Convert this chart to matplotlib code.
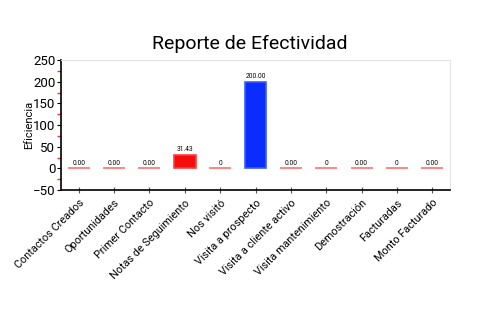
import matplotlib
matplotlib.use("Agg")
import matplotlib.pyplot as plt
from matplotlib.ticker import MultipleLocator

plt.rcParams["font.family"] = ["Roboto", "DejaVu Sans"]

categorias = [
    "Contactos Creados", "Oportunidades", "Primer Contacto",
    "Notas de Seguimiento", "Nos visitó", "Visita a prospecto",
    "Visita a cliente activo", "Visita mantenimiento", "Demostración",
    "Facturadas", "Monto Facturado",
]
valores = [0, 0, 0, 31.43, 0, 200, 0, 0, 0, 0, 0]
etiquetas = ["0.00", "0.00", "0.00", "31.43", "0", "200.00",
             "0.00", "0", "0.00", "0", "0.00"]

fig = plt.figure(figsize=(5, 3.3), dpi=100)
ax = fig.add_axes([0.122, 0.424, 0.778, 0.394])

colores = []
bordes = []
for v in valores:
    if v >= 100:
        colores.append("#0a2cff")
        bordes.append("#3b5cff")
    elif v > 0:
        colores.append("#f50d0d")
        bordes.append("#ff4040")
    else:
        colores.append("#ff7070")
        bordes.append("#ff7070")

x = list(range(len(categorias)))
bars = ax.bar(x, valores, width=0.62, color=colores, edgecolor=bordes, linewidth=1.2)

for b, txt in zip(bars, etiquetas):
    ax.text(b.get_x() + b.get_width() / 2, b.get_height() + 4, txt,
            ha="center", va="bottom", fontsize=4.8)

ax.set_xlim(-0.5, len(categorias) - 0.5)
ax.set_ylim(-50, 250)
ax.yaxis.set_major_locator(MultipleLocator(50))
ax.yaxis.set_minor_locator(MultipleLocator(25))
ax.set_xticks(x)
ax.set_xticklabels(categorias, rotation=45, ha="right", rotation_mode="anchor",
                   fontsize=7.8)

ax.tick_params(axis="y", which="major", length=3, labelsize=9.5, pad=1)
ax.tick_params(axis="y", which="minor", length=3, color="#ff3030", width=1)
ax.tick_params(axis="x", which="major", direction="inout", length=5, color="#555555", pad=3)

for s in ("top", "right"):
    ax.spines[s].set_color("#e4e4e4")
for s in ("left", "bottom"):
    ax.spines[s].set_color("black")
    ax.spines[s].set_linewidth(1.2)

ax.set_ylabel("Eficiencia", fontsize=8, labelpad=-1)
fig.text(0.5, 0.868, "Reporte de Efectividad", ha="center", va="center",
         fontsize=14)

fig.savefig("out.png", dpi=100)
